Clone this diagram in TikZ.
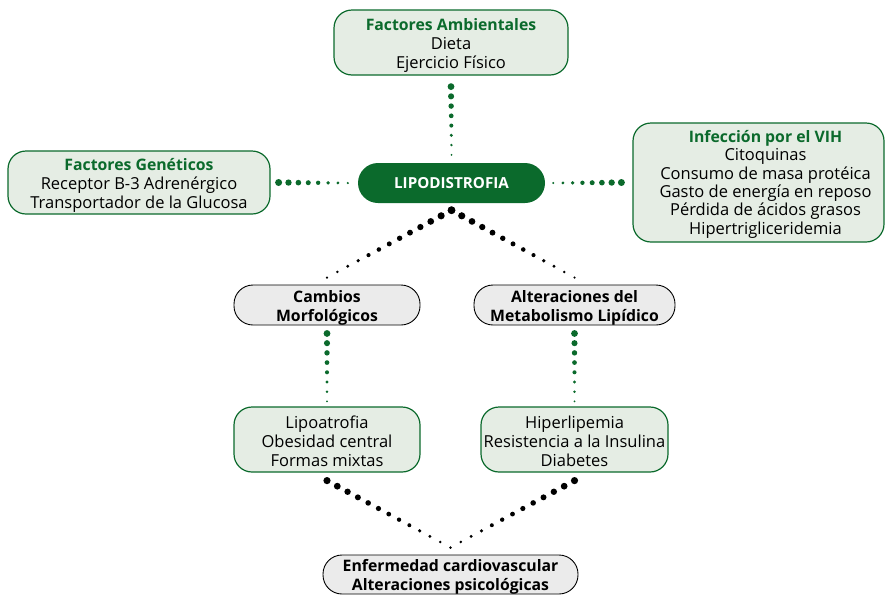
\documentclass[tikz,border=0pt]{standalone}
\usepackage{fontspec}
\setmainfont{Open Sans}
\usetikzlibrary{calc}
\definecolor{dgreen}{HTML}{0B6A2C}
\definecolor{pgreen}{HTML}{E5EDE4}
\definecolor{pgray}{HTML}{EBEBEB}
\newcommand{\dotchain}[6]{%
  \foreach \k in {0,...,#3}{%
    \pgfmathsetmacro{\dtt}{\k/#3}%
    \pgfmathsetmacro{\drr}{#4-(#4-#5)*\dtt}%
    \fill[#6] ($(#1)!\dtt!(#2)$) circle[radius=\drr pt];}}
\newcommand{\ttlg}[1]{\textcolor{dgreen}{\fontsize{15.8}{19}\selectfont\bfseries #1}}
\newcommand{\tp}[1]{\rule{0pt}{#1pt}}
\newcommand{\rs}[1]{\hspace*{14pt}#1}
\begin{document}
\begin{tikzpicture}[x=1pt,y=-1pt,
  txt/.style={font=\fontsize{16.5}{19}\selectfont, align=center, inner sep=0pt},
  gbox/.style={txt, draw=dgreen, fill=pgreen, line width=1.2pt, rounded corners=18pt},
  pill/.style={txt, draw=black, fill=pgray, line width=0.9pt, rounded corners=19pt,
    font=\fontsize{15.8}{18.5}\selectfont\bfseries}]
\useasboundingbox (0,0) rectangle (885,595);
\node[gbox, minimum width=234pt, minimum height=65pt] (amb) at (451,42.5)
  {\tp{18}\ttlg{Factores Ambientales}\\Dieta\\Ejercicio Físico};
\node[gbox, minimum width=262pt, minimum height=63pt] (gen) at (139,182.5)
  {\tp{18}\ttlg{Factores Genéticos}\\Receptor B-3 Adrenérgico\\Transportador de la Glucosa};
\node[gbox, minimum width=251pt, minimum height=119pt, font=\fontsize{16.5}{18.4}\selectfont] (vih) at (758.5,182.5)
  {\tp{15.5}\rs{\ttlg{Infección por el VIH}}\\\rs{Citoquinas}\\\rs{Consumo de masa protéica}\\\rs{Gasto de energía en reposo}\\\rs{Pérdida de ácidos grasos}\\\rs{Hipertrigliceridemia}};
\node[txt, fill=dgreen, text=white, rounded corners=20pt, minimum width=187pt, minimum height=40pt,
  font=\fontsize{15.2}{17}\selectfont\bfseries] (lipo) at (451.5,183) {LIPODISTROFIA};
\node[pill, minimum width=186pt, minimum height=40pt] (camb) at (327,305)
  {\tp{17.5}Cambios\\Morfológicos};
\node[pill, minimum width=201pt, minimum height=40pt] (alt) at (574.5,305)
  {\tp{17.5}Alteraciones del\\Metabolismo Lipídico};
\node[gbox, minimum width=186pt, minimum height=65pt] (lipoa) at (327,439.5)
  {\tp{15.5}Lipoatrofia\\Obesidad central\\Formas mixtas};
\node[gbox, minimum width=187pt, minimum height=65pt] (hiper) at (574.5,439.5)
  {\tp{15.5}Hiperlipemia\\Resistencia a la Insulina\\Diabetes};
\node[pill, minimum width=255pt, minimum height=39pt] (enf) at (450.5,574.5)
  {\tp{16.5}Enfermedad cardiovascular\\Alteraciones psicológicas};
% anchor coordinates for dotted connectors
\coordinate (a1) at ($(amb.south)+(0,11)$);
\coordinate (a2) at ($(lipo.north)+(0,-8)$);
\coordinate (g1) at ($(gen.east)+(8,0)$);
\coordinate (g2) at ($(lipo.west)+(-10,0)$);
\coordinate (v1) at ($(vih.west)+(-11,0)$);
\coordinate (v2) at ($(lipo.east)+(8,0)$);
\coordinate (l0) at ($(lipo.south)+(0,7)$);
\coordinate (c1) at ($(camb.north)+(0,-7)$);
\coordinate (m1) at ($(alt.north)+(0,-7)$);
\coordinate (c2) at ($(camb.south)+(0,8)$);
\coordinate (c3) at ($(lipoa.north)+(0,-5)$);
\coordinate (m2) at ($(alt.south)+(0,8)$);
\coordinate (m3) at ($(hiper.north)+(0,-5)$);
\coordinate (b1) at ($(lipoa.south)+(0,8)$);
\coordinate (b2) at ($(hiper.south)+(0,8)$);
\coordinate (e1) at ($(enf.north)+(0,-7)$);
\dotchain{a1}{a2}{7}{3.4}{1.0}{dgreen}
\dotchain{g1}{g2}{7}{3.5}{1.2}{dgreen}
\dotchain{v1}{v2}{7}{3.5}{1.2}{dgreen}
\dotchain{l0}{c1}{12}{3.8}{1.2}{black}
\dotchain{l0}{m1}{12}{3.8}{1.2}{black}
\dotchain{c2}{c3}{7}{3.4}{1.0}{dgreen}
\dotchain{m2}{m3}{7}{3.4}{1.0}{dgreen}
\dotchain{b1}{e1}{12}{3.6}{1.2}{black}
\dotchain{b2}{e1}{12}{3.6}{1.2}{black}
\end{tikzpicture}
\end{document}
